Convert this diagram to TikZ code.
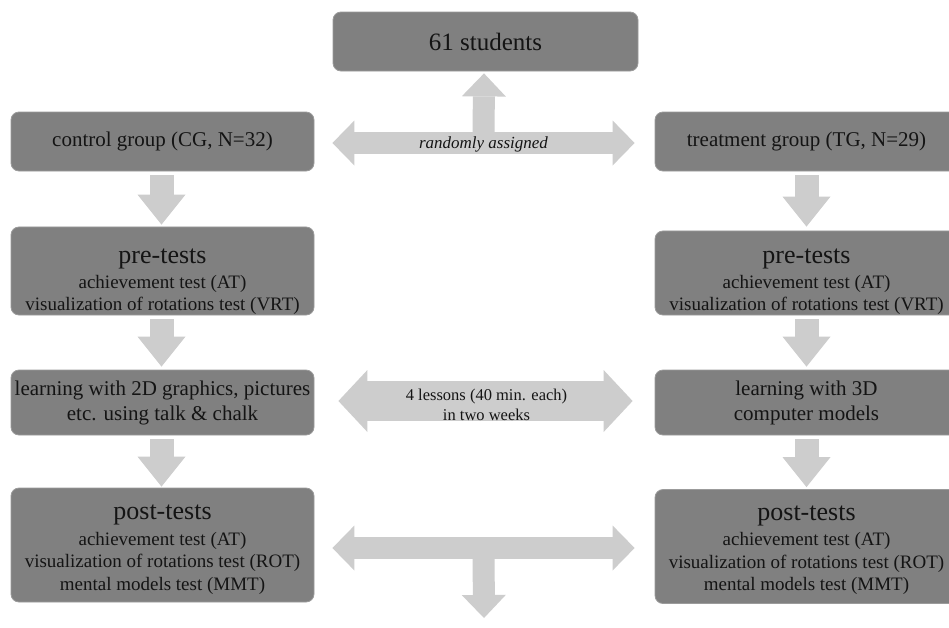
\documentclass[tikz,border=0pt]{standalone}
\usepackage{fontspec}
\setmainfont{Liberation Serif}
\usetikzlibrary{arrows.meta,calc}
\definecolor{boxgray}{RGB}{128,128,128}
\definecolor{boxedge}{RGB}{155,155,155}
\definecolor{arrowgray}{RGB}{205,205,205}
\definecolor{ink}{RGB}{20,20,20}
\tikzset{
  box/.style={rectangle, rounded corners=8pt, fill=boxgray, draw=boxedge,
    line width=0.8pt, minimum width=303pt, inner sep=0pt, align=center,
    text=ink, font=\fontsize{21}{25}\selectfont},
  testbox/.style={box, font=\fontsize{19}{22}\selectfont},
  vblock/.style={draw=arrowgray, line width=24pt,
    -{Triangle[width=48pt,length=30pt,line width=0pt]}},
  stem/.style={draw=arrowgray, line width=22pt,
    -{Triangle[width=44pt,length=23pt,line width=0pt]}},
  hblock/.style={draw=arrowgray, line width=22pt,
    {Triangle[width=45pt,length=22pt,line width=0pt]}-{Triangle[width=45pt,length=22pt,line width=0pt]}},
  wblock/.style={draw=arrowgray, line width=40pt,
    {Triangle[width=62pt,length=29pt,line width=0pt]}-{Triangle[width=62pt,length=29pt,line width=0pt]}},
  lbl/.style={text=ink, align=center, inner sep=0pt}
}
% title line of a test box; #2 is an invisible strut that pushes the text down
\newcommand{\ttl}[2]{{\fontsize{26}{28}\selectfont\rule{0pt}{#2}#1}\\[3pt]}
\begin{document}
\begin{tikzpicture}[x=1pt,y=-1pt]
\useasboundingbox (0,0) rectangle (949,627);
\clip (0,0) rectangle (949,627);
\fill[white] (0,0) rectangle (949,627);
% nodes
\node[box, minimum width=305pt, minimum height=59pt, font=\fontsize{25}{28}\selectfont] (top) at (485.5,41.5) {61 students};
\node[box, minimum height=59pt] (CG) at (162.5,141.5) {control group (CG, N=32)};
\node[box, minimum height=59pt] (TG) at (806.5,141.5) {treatment group (TG, N=29)};
\node[testbox, minimum height=84pt] (Lpre) at (162.5,271) {\ttl{pre-tests}{37pt}achievement test (AT)\\visualization of rotations test (VRT)};
\node[testbox, minimum height=84pt] (Rpre) at (806.5,273) {\ttl{pre-tests}{33pt}achievement test (AT)\\visualization of rotations test (VRT)};
\node[box, minimum height=65pt] (Llearn) at (162.5,402.5) {learning with 2D graphics, pictures\\etc. using talk \& chalk};
\node[box, minimum height=65pt] (Rlearn) at (806.5,402.5) {learning with 3D\\computer models};
\node[testbox, minimum height=114pt, font=\fontsize{19}{22.5}\selectfont] (Lpost) at (162.5,545) {\ttl{post-tests}{24pt}achievement test (AT)\\visualization of rotations test (ROT)\\mental models test (MMT)};
\node[testbox, minimum height=114pt, font=\fontsize{19}{22.5}\selectfont] (Rpost) at (806.5,546.5) {\ttl{post-tests}{22pt}achievement test (AT)\\visualization of rotations test (ROT)\\mental models test (MMT)};
% vertical arrows
\draw[vblock] ([xshift=-1pt,yshift=-4pt]CG.south) -- ([xshift=-1pt,yshift=2pt]Lpre.north);
\draw[vblock] ([xshift=-1pt,yshift=-4pt]Lpre.south) -- ([xshift=-1pt,yshift=3pt]Llearn.north);
\draw[vblock] ([xshift=-1pt,yshift=-4pt]Llearn.south) -- ([xshift=-1pt,yshift=1pt]Lpost.north);
\draw[vblock] ([yshift=-4pt]TG.south) -- ([yshift=4pt]Rpre.north);
\draw[vblock] ([yshift=-4pt]Rpre.south) -- ([yshift=3pt]Rlearn.north);
\draw[vblock] ([yshift=-4pt]Rlearn.south) -- ([yshift=2pt]Rpost.north);
% randomly assigned
\coordinate (h1a) at ([xshift=18pt,yshift=-1.5pt]CG.east);
\coordinate (h1b) at ([xshift=-20pt,yshift=-1.5pt]TG.west);
\coordinate (m1) at ($(h1a)!0.5!(h1b)$);
\draw[stem] (m1) -- ([xshift=-1.5pt,yshift=-2pt]top.south);
\draw[hblock] (h1a) -- (h1b);
\node[lbl, font=\fontsize{17}{20}\selectfont\itshape] (rand) at ([yshift=-1pt]m1) {randomly assigned};
% 4 lessons
\coordinate (h2a) at ([xshift=24pt,yshift=1.5pt]Llearn.east);
\coordinate (h2b) at ([xshift=-22pt,yshift=1.5pt]Rlearn.west);
\coordinate (m2) at ($(h2a)!0.5!(h2b)$);
\draw[wblock] (h2a) -- (h2b);
\node[lbl, font=\fontsize{16.5}{20}\selectfont] (less) at ([xshift=1pt,yshift=-4pt]m2) {4 lessons (40 min. each)\\in two weeks};
% bottom
\coordinate (h3a) at ([xshift=18pt,yshift=-3pt]Lpost.east);
\coordinate (h3b) at ([xshift=-20pt,yshift=-1.5pt]Rpost.west);
\coordinate (m3) at ($(h3a)!0.5!(h3b)$);
\coordinate (e3) at (484,618);
\draw[stem] (m3) -- (e3);
\draw[hblock] (h3a) -- (h3b);
\end{tikzpicture}
\end{document}
